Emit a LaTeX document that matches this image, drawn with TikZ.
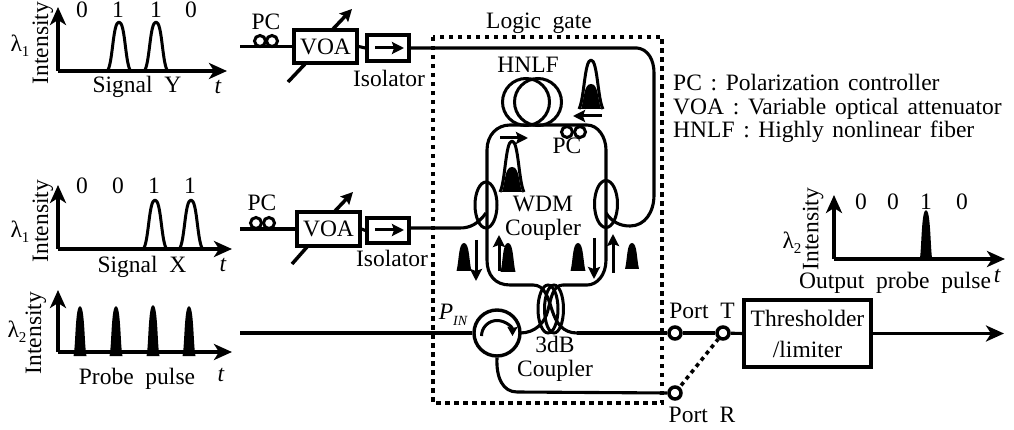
\documentclass[tikz,border=0pt]{standalone}
\usepackage{fontspec}
\setmainfont{Liberation Serif}
\usetikzlibrary{arrows.meta,shapes.geometric}
\tikzset{
  x=1pt,y=-1pt,
  line/.style={line width=3.1pt,line join=round},
  arr/.style={line width=3.5pt,-{Stealth[length=18pt,width=16pt,inset=5pt]}},
  sarr/.style={line width=3pt,-{Stealth[length=12pt,width=12pt,inset=2pt]}},
  txt/.style={inner sep=0pt,font=\fontsize{23.5}{23.5}\selectfont},
  box/.style={draw,line width=3.5pt,inner sep=0pt,fill=white,font=\fontsize{23.5}{25}\selectfont},
  pcl/.style={draw,circle,line width=3pt,minimum size=11pt,inner sep=0pt,fill=white},
  port/.style={draw,circle,line width=3.5pt,minimum size=12pt,inner sep=0pt,fill=white},
  ell/.style={draw,ellipse,line width=3pt,inner sep=0pt},
  pulse/.style={line width=3pt,line join=round},
  bpulse/.style={line width=1pt,fill=black},
}
\newcommand{\axes}[5]{%
  \coordinate (#5o) at (#1,#3);
  \coordinate (#5u) at (#1,#2);
  \coordinate (#5r) at (#4,#3);
  \draw[arr] (#5o) -- (#5u);
  \draw[arr] (#5o) -- (#5r);
}
\newcommand{\opulse}[4]{%
  \draw[pulse] (#1-#4,#3) .. controls (#1-#4*0.55,#3-10) and (#1-#4*0.55,#2) .. (#1,#2) .. controls (#1+#4*0.55,#2) and (#1+#4*0.55,#3-10) .. (#1+#4,#3);
}
\newcommand{\bpulsed}[4]{%
  \fill[bpulse] (#1-#4,#3) .. controls (#1-#4*0.65,#3-10) and (#1-#4*0.75,#2) .. (#1,#2) .. controls (#1+#4*0.75,#2) and (#1+#4*0.65,#3-10) .. (#1+#4,#3) -- cycle;
}
\newcommand{\rtxt}[3]{\node[txt,rotate=90] at (#1,#2) {#3};}
\newcommand{\lam}[1]{λ\raisebox{-5pt}{\fontsize{15}{15}\selectfont #1}}
\begin{document}
\begin{tikzpicture}
\useasboundingbox (0,0) rectangle (1014,430);
% ---- Signal Y
\axes{58}{7}{71}{227}{sy}
\rtxt{43}{43}{Intensity}
\node[txt] (ly) at (20,46) {\lam{1}};
\node[txt] (y0) at (82,10) {0};
\node[txt] (y1) at (118,10) {1};
\node[txt] (y2) at (156,10) {1};
\node[txt] (y3) at (191,10) {0};
\opulse{119}{22}{70}{11}
\opulse{156}{22}{70}{11}
\node[txt] (syl) at (137,87) {Signal\ \ Y};
\node[txt] (ty) at (218,87) {\itshape t};
% ---- Signal X
\axes{58}{185}{249}{232}{sx}
\rtxt{43}{221}{Intensity}
\node[txt] (lx) at (20,232) {\lam{1}};
\node[txt] (x0) at (82,186) {0};
\node[txt] (x1) at (118,186) {0};
\node[txt] (x2) at (154,186) {1};
\node[txt] (x3) at (190,186) {1};
\opulse{155}{200}{248}{11}
\opulse{191}{200}{248}{11}
\node[txt] (sxl) at (142,267) {Signal\ \ X};
\node[txt] (tx) at (223,265) {\itshape t};
% ---- Probe
\axes{58}{290}{352}{232}{pp}
\rtxt{36}{333}{Intensity}
\node[txt] (lp) at (17,332) {\lam{2}};
\bpulsed{80}{306}{356}{6.5}
\bpulsed{116}{306}{356}{6.5}
\bpulsed{153}{305}{356}{6.5}
\bpulsed{189}{306}{356}{6.5}
\node[txt] (pl) at (137,379) {Probe\ \ pulse};
\node[txt] (tp) at (221,375) {\itshape t};
% ---- Upper branch
\coordinate (ua) at (240,46.5);
\node[box,minimum width=63pt,minimum height=33pt] (voa1) at (325.5,46.5) {VOA};
\node[box,minimum width=42pt,minimum height=26pt] (iso1) at (388,48) {};
\draw[line] (ua) -- (voa1.west);
\draw[line] (voa1.east) -- (iso1.west);
\node[pcl] (pc1a) at (260,41) {};
\node[pcl] (pc1b) at (272,41) {};
\node[txt] (pc1) at (266,22) {PC};
\coordinate (iso1a) at (375,48);
\coordinate (iso1b) at (404,48);
\draw[sarr] (iso1a) -- (iso1b);
\node[txt] (iso1t) at (389,78) {Isolator};
\coordinate (v1a) at (288,82);
\coordinate (v1b) at (352,9);
\coordinate (v1c) at (305,64);
\coordinate (v1d) at (333,29);
\draw[line,line width=3.5pt] (v1a) -- (v1c);
\draw[sarr,line width=3.5pt] (v1d) -- (v1b);
% ---- Lower branch
\coordinate (la) at (240,229);
\node[box,minimum width=63pt,minimum height=34pt] (voa2) at (328.5,229) {VOA};
\node[box,minimum width=42pt,minimum height=25pt] (iso2) at (388,230.5) {};
\draw[line] (la) -- (voa2.west);
\draw[line] (voa2.east) -- (iso2.west);
\node[pcl] (pc2a) at (256,223) {};
\node[pcl] (pc2b) at (269,223) {};
\node[txt] (pc2) at (262,203) {PC};
\coordinate (iso2a) at (375,230);
\coordinate (iso2b) at (404,230);
\draw[sarr] (iso2a) -- (iso2b);
\node[txt] (iso2t) at (392,258) {Isolator};
\coordinate (v2a) at (292,264);
\coordinate (v2b) at (353,192);
\coordinate (v2c) at (307,247);
\coordinate (v2d) at (335,211);
\draw[line,line width=3.5pt] (v2a) -- (v2c);
\draw[sarr,line width=3.5pt] (v2d) -- (v2b);
% ---- Fibre
\draw[line] (iso1.east |- 0,48) -- (637,48) .. controls (648,49) and (654,60) .. (654,73) -- (654,195) .. controls (654,212) and (645,226) .. (630,226) .. controls (620,226) and (612,222) .. (606,213);
\draw[line] (iso2.east |- 0,228) -- (460,228) .. controls (470,228) and (478,224) .. (486,213);
% Main ring
\draw[line] (533,285) -- (510,285) .. controls (495,285) and (487,275) .. (487,260) -- (487,150) .. controls (487,135) and (497,125) .. (510,125) -- (587,125) .. controls (598,125) and (606,137) .. (606,150) -- (606,260) .. controls (606,275) and (597,285) .. (587,285) -- (563,285);
\draw[line] (533,285) .. controls (545,285) and (548,298) .. (552,310) .. controls (556,323) and (563,333) .. (577,333);
\draw[line] (563,285) .. controls (553,285) and (551,298) .. (548,310) .. controls (545,323) and (535,333) .. (520,333);
% HNLF
\node[draw,circle,line width=3pt,minimum size=47pt,inner sep=0pt] (h1) at (526,102) {};
\node[draw,circle,line width=3pt,minimum size=47pt,inner sep=0pt] (h2) at (538,102) {};
\node[txt] (hl) at (528,65) {HNLF};
% PC on ring
\node[pcl] (pc3a) at (567,132) {};
\node[pcl] (pc3b) at (580,132) {};
\node[txt] (pc3) at (567,146) {PC};
% Ring arrows
\coordinate (ra) at (500,138); \coordinate (rb) at (528,138);
\draw[sarr] (ra) -- (rb);
\coordinate (rc) at (602,116); \coordinate (rd) at (573,116);
\draw[sarr] (rc) -- (rd);
% pulses near ring
\opulse{512}{141}{192}{12}
\bpulsed{512}{167}{192}{10}
\opulse{591}{60}{109}{12}
\bpulsed{591}{84}{109}{10}
% WDM couplers
\node[ell,minimum width=22pt,minimum height=46pt] (w1) at (486,205) {};
\node[ell,minimum width=23pt,minimum height=47pt] (w2) at (606,204) {};
\node[txt,align=center] (wl) at (543,218.5) {WDM\\Coupler};
% lower arrows & pulses
\bpulsed{464}{243}{271}{7.5}
\draw[sarr] (476,240) -- (476,281);
\draw[sarr] (499,271) -- (499,235);
\bpulsed{508}{243}{272}{7.5}
\bpulsed{578}{243}{271}{7.5}
\draw[sarr] (594,238) -- (594,279);
\draw[sarr] (613,273) -- (613,234);
\bpulsed{632}{243}{269}{7}
% Probe line & circulator
\coordinate (pa) at (240,333);
\node[draw,circle,line width=3.4pt,minimum size=46pt,inner sep=0pt,fill=white] (cir) at (497,333) {};
\draw[line] (pa) -- (cir.west);
\draw[line width=3pt,-{Stealth[length=9pt,width=10pt,inset=1pt]}] (481.5,336) arc (180:360:15.5);
\node[txt] (pin) at (453,315) {\itshape P\raisebox{-6pt}{\fontsize{14}{14}\selectfont IN}};
% 3dB coupler
\node[ell,minimum width=20pt,minimum height=48pt] (c1) at (548,309) {};
\node[ell,minimum width=19pt,minimum height=48pt] (c2) at (554,309) {};
\node[txt,align=center] (cl) at (555,359) {3dB\\Coupler};
% Ports
\node[port] (pt) at (675,333) {};
\node[port] (pt2) at (723,333) {};
\node[port] (pr) at (675,393) {};
\draw[line] (577,333) -- (pt);
\draw[line] (cir.south) .. controls (496,378) and (503,392) .. (517,392) -- (pr.west);
\draw[line] (pt) -- (pt2);
\draw[line width=3.6pt,dash pattern=on 4pt off 4pt,shorten <=2pt] (pr) -- (pt2);
\node[txt] (ptl) at (702,311) {Port\ \ T};
\node[txt] (prl) at (702,415) {Port\ \ R};
% Logic gate box
\draw[line width=3.6pt,dash pattern=on 4.5pt off 4.5pt] (433,37) rectangle (662,403);
\node[txt] (lg) at (539,23) {Logic\ \ gate};
% Thresholder
\node[box,minimum width=127pt,minimum height=67pt,align=center] (th) at (807.5,333.5) {Thresholder\\[6pt]/limiter};
\draw[line] (pt2) -- (th.west);
\coordinate (oute) at (1004,333.5);
\draw[arr] (th.east) -- (oute);
% Legend
\node[txt,anchor=west,align=left] (lg1) at (673,108.5) {\spaceskip=8.7pt\relax PC : Polarization controller\\\spaceskip=8.7pt\relax VOA : Variable optical attenuator\\\spaceskip=8.7pt\relax HNLF : Highly nonlinear fiber};
% Output
\axes{834}{195}{259}{1005}{op}
\rtxt{813}{229}{Intensity}
\node[txt] (lo) at (792,243) {\lam{2}};
\node[txt] (o0) at (861,202) {0};
\node[txt] (o1) at (893,202) {0};
\node[txt] (o2) at (926,202) {1};
\node[txt] (o3) at (962,202) {0};
\bpulsed{926}{210}{261}{6.5}
\node[txt] (ol) at (895,283) {Output\ \ probe\ \ pulse};
\node[txt] (to) at (997,276) {\itshape t};
\end{tikzpicture}
\end{document}
